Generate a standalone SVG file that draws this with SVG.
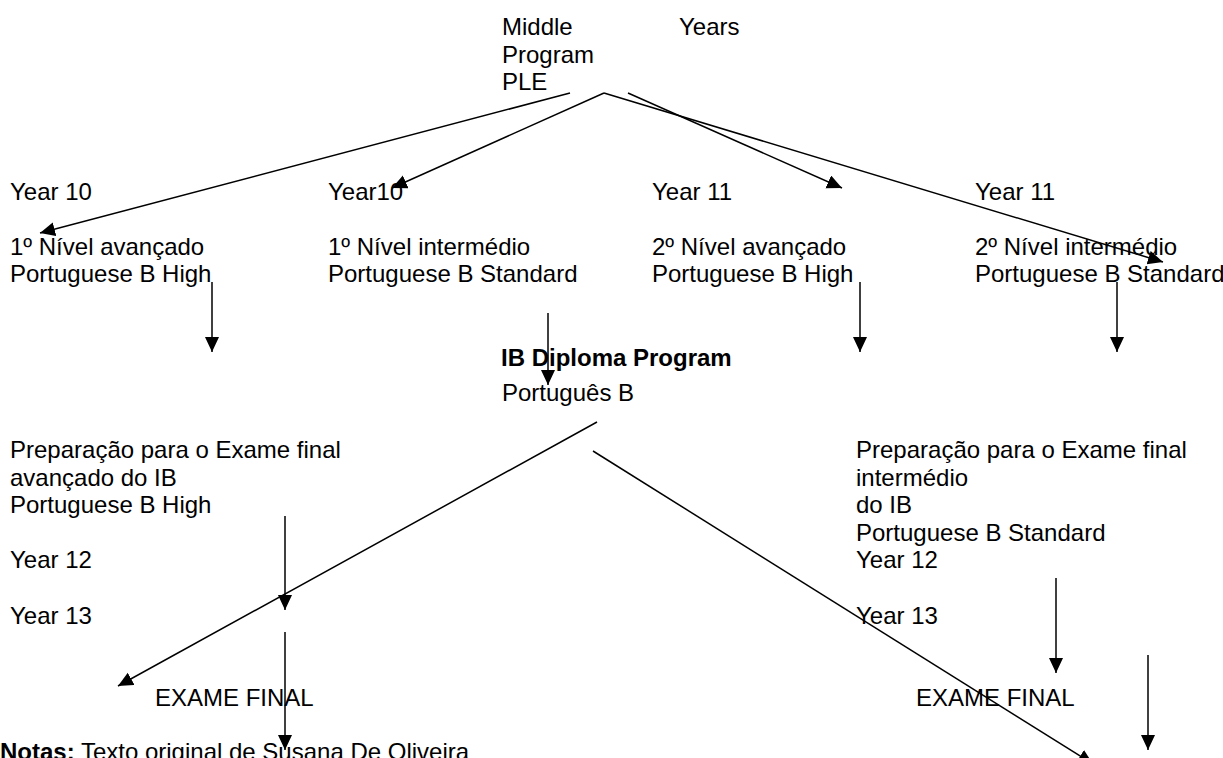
<svg xmlns="http://www.w3.org/2000/svg" width="1223" height="758" viewBox="0 0 1223 758">
<style>
text{font-family:"Liberation Sans",Arial,sans-serif;font-size:24px;fill:#000}
.b{font-weight:bold}
.c line{stroke:#000;stroke-width:1.5;marker-end:url(#ah)}
</style>
<defs>
<marker id="ah" markerUnits="userSpaceOnUse" markerWidth="16" markerHeight="16" refX="15" refY="7" orient="auto" viewBox="0 0 16 16">
<path d="M0,0 L15,7 L0,14 z" fill="#000"/>
</marker>
</defs>
<rect width="1223" height="758" fill="#fff"/>
<g id="top"><text x="502" y="35">Middle</text><text x="679" y="35">Years</text><text x="502" y="63">Program</text><text x="502" y="90">PLE</text></g>
<g id="col1"><text x="10" y="200">Year 10</text><text x="10" y="255">1º Nível avançado</text><text x="10" y="282">Portuguese B High</text></g>
<g id="col2"><text x="328" y="200">Year10</text><text x="328" y="255">1º Nível intermédio</text><text x="328" y="282">Portuguese B Standard</text></g>
<g id="col3"><text x="652" y="200">Year 11</text><text x="652" y="255">2º Nível avançado</text><text x="652" y="282">Portuguese B High</text></g>
<g id="col4"><text x="975" y="200">Year 11</text><text x="975" y="255">2º Nível intermédio</text><text x="975" y="282">Portuguese B Standard</text></g>
<g id="ib"><text class="b" x="501" y="366">IB Diploma Program</text><text x="502" y="401">Português B</text></g>
<g id="left"><text x="10" y="458">Preparação para o Exame final</text><text x="10" y="486">avançado do IB</text><text x="10" y="513">Portuguese B High</text><text x="10" y="568">Year 12</text><text x="10" y="624">Year 13</text></g>
<g id="right"><text x="856" y="458">Preparação para o Exame final</text><text x="856" y="486">intermédio</text><text x="856" y="513">do IB</text><text x="856" y="541">Portuguese B Standard</text><text x="856" y="568">Year 12</text><text x="856" y="624">Year 13</text></g>
<g id="exam1"><text x="155" y="706">EXAME FINAL</text></g>
<g id="exam2"><text x="916" y="706">EXAME FINAL</text></g>
<g id="notes"><text x="0" y="760"><tspan class="b">Notas:</tspan> Texto original de Susana De Oliveira</text></g>
<g id="connectors" class="c">
<line x1="570" y1="93" x2="40" y2="233"/>
<line x1="604" y1="93" x2="392" y2="188"/>
<line x1="628" y1="93" x2="842" y2="188"/>
<line x1="604" y1="93" x2="1163" y2="262"/>
<line x1="212" y1="282" x2="212" y2="352"/>
<line x1="548" y1="313" x2="548" y2="385"/>
<line x1="860" y1="282" x2="860" y2="352"/>
<line x1="1117" y1="282" x2="1117" y2="352"/>
<line x1="597" y1="422" x2="118" y2="686"/>
<line x1="593" y1="451" x2="1093" y2="764"/>
<line x1="285" y1="516" x2="285" y2="610"/>
<line x1="285" y1="632" x2="285" y2="750"/>
<line x1="1056" y1="578" x2="1056" y2="673"/>
<line x1="1148" y1="655" x2="1148" y2="750"/>
</g>
</svg>
